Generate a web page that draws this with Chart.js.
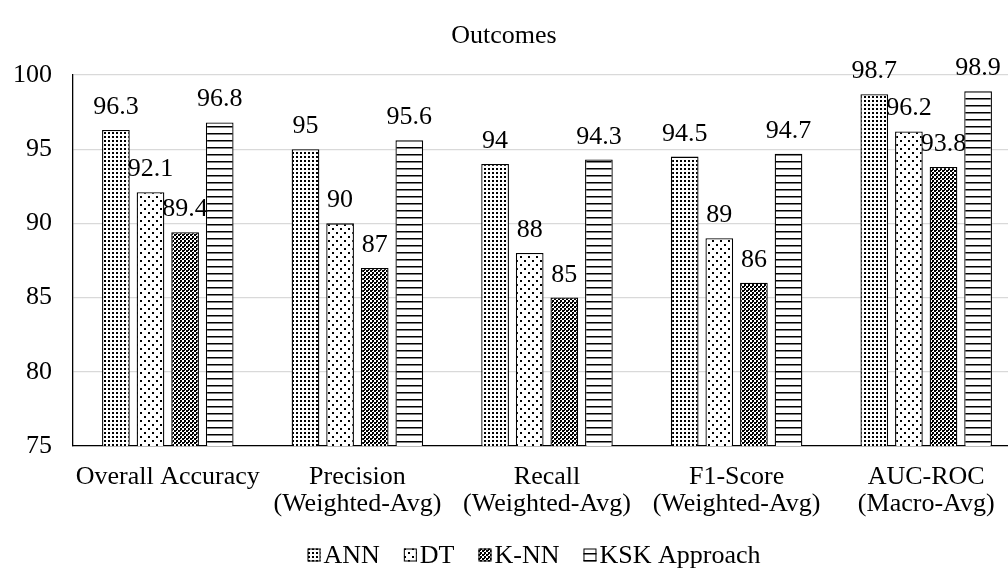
<!DOCTYPE html>
<html>
<head>
  <title>Outcomes</title>
  <script src="https://cdn.jsdelivr.net/npm/chart.js"></script>
  <style>
    html, body { margin: 0; padding: 0; overflow: hidden; background: #fff; }
    #wrap { width: 1030px; height: 576px; }
  </style>
</head>
<body>
  <div id="wrap"><canvas id="outcomeChart"></canvas></div>

  <script>
    const categories = [
      'Overall Accuracy',
      ['Precision', '(Weighted-Avg)'],
      ['Recall', '(Weighted-Avg)'],
      ['F1-Score', '(Weighted-Avg)'],
      ['AUC-ROC', '(Macro-Avg)']
    ];
    const seriesNames = ['ANN', 'DT', 'K-NN', 'KSK Approach'];
    const annValues = [96.3, 95, 94, 94.5, 98.7];
    const dtValues = [92.1, 90, 88, 89, 96.2];
    const knnValues = [89.4, 87, 85, 86, 93.8];
    const kskValues = [96.8, 95.6, 94.3, 94.7, 98.9];
    const yTicks = [75, 80, 85, 90, 95, 100];

    const FONT = '"Liberation Serif", "Times New Roman", serif';
    const FS = 26;

    // 패턴 만들기
    function makePattern(size, draw) {
      const c = document.createElement('canvas');
      c.width = size; c.height = size;
      const g = c.getContext('2d');
      g.fillStyle = '#fff';
      g.fillRect(0, 0, size, size);
      g.fillStyle = '#000';
      draw(g);
      return c.getContext('2d').createPattern(c, 'repeat');
    }

    const annPattern = makePattern(4, g => {
      g.fillRect(0, 0, 2, 2);
    });
    const dtPattern = makePattern(8, g => {
      g.fillRect(0, 0, 2, 2);
      g.fillRect(4, 4, 2, 2);
    });
    const knnPattern = makePattern(4, g => {
      g.fillRect(0, 0, 2, 2);
      g.fillRect(2, 2, 2, 2);
      g.fillRect(0, 2, 1, 1);
    });
    const kskPattern = makePattern(7, g => {
      g.fillRect(0, 0, 7, 1.5);
    });

    const patterns = [annPattern, dtPattern, knnPattern, kskPattern];
    const allValues = [annValues, dtValues, knnValues, kskValues];

    // 제목 + 막대 위 값 표시
    const valueLabels = {
      id: 'valueLabels',
      afterDatasetsDraw(chart) {
        const ctx = chart.ctx;
        ctx.save();
        ctx.font = FS + 'px ' + FONT;
        ctx.fillStyle = '#000';
        ctx.textAlign = 'center';
        ctx.textBaseline = 'middle';
        ctx.fillText('Outcomes', 504, 36);
        ctx.textBaseline = 'alphabetic';
        chart.data.datasets.forEach((ds, i) => {
          chart.getDatasetMeta(i).data.forEach((bar, j) => {
            ctx.fillText(String(ds.data[j]), bar.x, bar.y - 16);
          });
        });
        ctx.restore();
      }
    };

    // 범례 (박스와 글자 간격을 좁게)
    const bottomLegend = {
      id: 'bottomLegend',
      afterDraw(chart) {
        const ctx = chart.ctx;
        ctx.save();
        ctx.font = FS + 'px ' + FONT;
        const box = 13, gap = 3, space = 24;
        const widths = chart.data.datasets.map(ds => box + gap + ctx.measureText(ds.label).width);
        const total = widths.reduce((a, b) => a + b, 0) + space * (widths.length - 1);
        let x = 534 - total / 2;
        const y = 555;
        chart.data.datasets.forEach((ds, i) => {
          ctx.fillStyle = ds.backgroundColor;
          ctx.fillRect(x, y - box / 2, box, box);
          ctx.strokeStyle = '#000';
          ctx.lineWidth = 1;
          ctx.strokeRect(x + 0.5, y - box / 2 + 0.5, box - 1, box - 1);
          ctx.fillStyle = '#000';
          ctx.textBaseline = 'middle';
          ctx.textAlign = 'left';
          ctx.fillText(ds.label, x + box + gap, y + 1);
          x += widths[i] + space;
        });
        ctx.restore();
      }
    };

    const ctx = document.getElementById('outcomeChart').getContext('2d');
    const chart = new Chart(ctx, {
      type: 'bar',
      data: {
        labels: categories,
        datasets: seriesNames.map((name, i) => ({
          label: name,
          data: allValues[i],
          backgroundColor: patterns[i],
          borderColor: '#000',
          borderWidth: 1.3,
          categoryPercentage: 0.73,
          barPercentage: 0.8
        }))
      },
      options: {
        responsive: true,
        maintainAspectRatio: false,
        animation: false,
        layout: { padding: { left: 13, right: 9, top: 75, bottom: 40 } },
        plugins: {
          title: { display: false },
          legend: { display: false },
          tooltip: { enabled: false }
        },
        scales: {
          x: {
            afterFit: axis => { axis.paddingLeft = 0; axis.paddingRight = 0; },
            grid: { display: false, drawTicks: false },
            border: { color: '#000', width: 1.3 },
            ticks: {
              color: '#000',
              font: { family: FONT, size: FS, lineHeight: 1.04 },
              maxRotation: 0,
              autoSkip: false,
              padding: 18
            }
          },
          y: {
            min: 75,
            max: 100,
            afterBuildTicks: axis => { axis.ticks = yTicks.map(v => ({ value: v })); },
            afterFit: axis => { axis.width = 60; },
            grid: { color: '#d9d9d9', lineWidth: 1.3, drawTicks: false },
            border: { color: '#000', width: 1.3 },
            ticks: {
              color: '#000',
              font: { family: FONT, size: FS },
              padding: 21
            }
          }
        }
      },
      plugins: [valueLabels, bottomLegend]
    });
  </script>
</body>
</html>
